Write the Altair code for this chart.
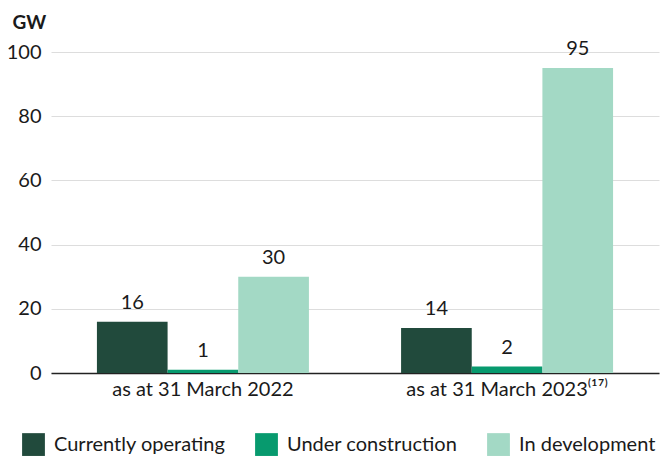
import altair as alt
import pandas as pd

periods = ["as at 31 March 2022", "as at 31 March 2023\u207d\u00b9\u2077\u207e"]
categories = ["Currently operating", "Under construction", "In development"]
values_2022 = [16, 1, 30]
values_2023 = [14, 2, 95]
colors = ["#214a3c", "#079a6e", "#a3d9c5"]
y_ticks = [0, 20, 40, 60, 80, 100]

rows = []
for p, vals in zip(periods, [values_2022, values_2023]):
    for i, (c, v) in enumerate(zip(categories, vals)):
        rows.append({"period": p, "category": c, "order": i, "value": v})
df = pd.DataFrame(rows)

FONT = "Lato"
TXT = "#1a1a1a"

base = alt.Chart(df).encode(
    x=alt.X("period:N", sort=periods,
            scale=alt.Scale(paddingInner=0.303, paddingOuter=0.151),
            axis=alt.Axis(title=None, labelAngle=0, labelFontSize=20, labelFont=FONT,
                          labelColor=TXT, labelPadding=6, ticks=False, labelLimit=0,
                          domainColor="#222222", domainWidth=1.5, grid=False)),
    xOffset=alt.XOffset("category:N", sort=categories, scale=alt.Scale(paddingInner=0, paddingOuter=0)),
)

bars = base.mark_bar().encode(
    y=alt.Y("value:Q", scale=alt.Scale(domain=[0, 100], nice=False),
            axis=alt.Axis(values=y_ticks, title="GW", titleAngle=0, titleX=-39, titleY=-24,
                          titleAlign="left", titleBaseline="alphabetic", titleFontSize=19,
                          titleFontWeight="bold", titleFont=FONT, titleColor=TXT,
                          labelFontSize=20, labelFont=FONT, labelColor=TXT, labelPadding=10,
                          ticks=False, domain=False, gridColor="#dddddd", gridWidth=1)),
    color=alt.Color("category:N", sort=categories,
                    scale=alt.Scale(domain=categories, range=colors),
                    legend=alt.Legend(title=None, orient="none", direction="horizontal",
                                      legendX=-29, legendY=381, symbolType="square",
                                      symbolSize=520, symbolStrokeWidth=0, labelFontSize=20,
                                      labelFont=FONT, labelColor=TXT, labelOffset=9,
                                      labelLimit=0, columnPadding=29, symbolOpacity=1)),
)

labels = base.mark_text(dy=-9, baseline="bottom", fontSize=20, font=FONT, color=TXT).encode(
    y=alt.Y("value:Q"),
    text=alt.Text("value:Q"),
)

chart = alt.layer(bars, labels).properties(
    width=608, height=321,
    autosize=alt.AutoSizeParams(type="none"),
    padding={"left": 43, "top": 44, "right": 5, "bottom": 83},
).configure_view(stroke=None)

chart.save("out.html", embed_options={"renderer": "svg", "actions": False})
